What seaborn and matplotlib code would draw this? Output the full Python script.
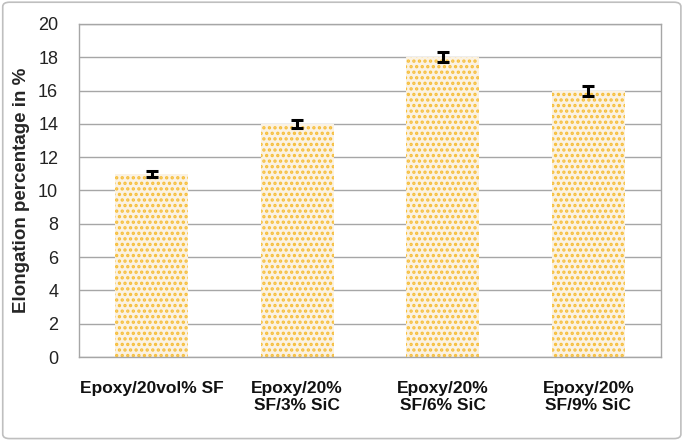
import matplotlib
matplotlib.use("Agg")
import matplotlib.pyplot as plt
import seaborn as sns
import pandas as pd
from matplotlib.patches import FancyBboxPatch

categories = ["Epoxy/20vol% SF", "Epoxy/20%\nSF/3% SiC", "Epoxy/20%\nSF/6% SiC", "Epoxy/20%\nSF/9% SiC"]
elongation = [11.0, 14.0, 18.0, 16.0]
errors = [0.2, 0.25, 0.3, 0.3]
yticks = [0, 2, 4, 6, 8, 10, 12, 14, 16, 18, 20]

sns.set_theme(style="white")
plt.rcParams['font.family'] = ['Liberation Sans', 'DejaVu Sans']
plt.rcParams['hatch.linewidth'] = 1.6

df = pd.DataFrame({"cat": categories, "val": elongation})

fig = plt.figure(figsize=(6.85, 4.43), dpi=100)
ax = fig.add_axes([79/685, 1 - 357/443, (661-79)/685, (357-24)/443])

sns.barplot(data=df, x="cat", y="val", ax=ax, width=0.5, color="#FBF2E2",
            edgecolor="#F6BE3A", linewidth=0, hatch="...", saturation=1, errorbar=None)
for p in ax.patches:
    p.set_hatch("...")
    p.set_edgecolor("#F6BE3A")
    p.set_linewidth(0)

ax.errorbar(range(len(elongation)), elongation, yerr=errors, fmt="none",
            ecolor="black", elinewidth=2.2, capsize=4.5, capthick=2.2, zorder=5)

ax.set_ylim(0, 20)
ax.set_yticks(yticks)
ax.set_yticklabels([str(t) for t in yticks], fontsize=13, color="#222222")
ax.set_xlim(-0.5, 3.5)
ax.yaxis.grid(True, color="#A6A6A6", linewidth=1)
ax.set_axisbelow(True)
for s in ax.spines.values():
    s.set_color("#A6A6A6")
    s.set_linewidth(1)
ax.tick_params(axis="both", length=0)
ax.tick_params(axis="y", pad=15)
ax.tick_params(axis="x", pad=17)
for lbl in ax.get_xticklabels():
    lbl.set_fontweight("bold")
    lbl.set_fontsize(12.5)
    lbl.set_color("#111111")
    lbl.set_linespacing(1.2)
ax.set_xlabel("")
ax.set_ylabel("Elongation percentage in %", fontsize=13.5, fontweight="bold", labelpad=6)

border = FancyBboxPatch((0.004, 0.01), 0.99, 0.985, boxstyle="round,pad=0,rounding_size=0.01",
                        transform=fig.transFigure, fill=False, edgecolor="#BFBFBF", linewidth=1.2)
fig.patches.append(border)

fig.savefig("out.png", dpi=100)
